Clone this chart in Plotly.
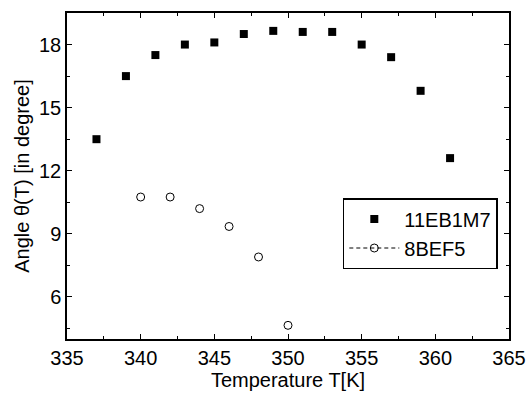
import plotly.graph_objects as go

temp_a = [337, 339, 341, 343, 345, 347, 349, 351, 353, 355, 357, 359, 361]
angle_a = [13.5, 16.5, 17.5, 18.0, 18.1, 18.5, 18.65, 18.6, 18.6, 18.0, 17.4, 15.8, 12.6]
temp_b = [340, 342, 344, 346, 348, 350]
angle_b = [10.75, 10.75, 10.2, 9.35, 7.9, 4.65]
name_a = "11EB1M7"
name_b = "8BEF5"

FONT = "Liberation Sans, Arial"

fig = go.Figure()
fig.add_trace(go.Scatter(x=temp_a, y=angle_a, mode="markers", name=name_a,
                         marker=dict(symbol="square", size=8, color="black")))
fig.add_trace(go.Scatter(x=temp_b, y=angle_b, mode="markers", name=name_b, showlegend=False,
                         marker=dict(symbol="circle-open", size=8, color="black", line=dict(width=1))))
fig.add_trace(go.Scatter(x=[None], y=[None], mode="lines+markers", name=name_b,
                         line=dict(color="black", width=1, dash="4px,3px"),
                         marker=dict(symbol="circle-open", size=8, color="black", line=dict(width=1))))

axis_common = dict(showline=True, linecolor="black", linewidth=1.5, mirror="allticks",
                   ticks="inside", ticklen=5, tickwidth=1.2, tickcolor="black",
                   showgrid=False, zeroline=False, automargin=False,
                   tickfont=dict(family=FONT, size=20, color="black"))

fig.update_xaxes(range=[335, 365], dtick=5, tick0=335,
                 minor=dict(ticks="inside", ticklen=3, dtick=2.5, tickcolor="black", tickwidth=1),
                 title=dict(text="Temperature T[K]", font=dict(family=FONT, size=20, color="black"), standoff=4),
                 **axis_common)
fig.update_yaxes(range=[4, 19.5], dtick=3, tick0=3,
                 minor=dict(ticks="inside", ticklen=3, dtick=1.5, tickcolor="black", tickwidth=1),
                 title=dict(text="Angle θ(T) [in degree]", font=dict(family=FONT, size=20, color="black"), standoff=4),
                 **axis_common)

fig.update_layout(
    width=529, height=394,
    margin=dict(l=67, r=20, t=13, b=55),
    plot_bgcolor="white", paper_bgcolor="white",
    legend=dict(x=0.624, y=0.4325, xanchor="left", yanchor="top",
                bordercolor="black", borderwidth=1.5, bgcolor="white",
                font=dict(family=FONT, size=20, color="black"),
                itemwidth=50, tracegroupgap=0),
)

fig.write_html("out.html")
